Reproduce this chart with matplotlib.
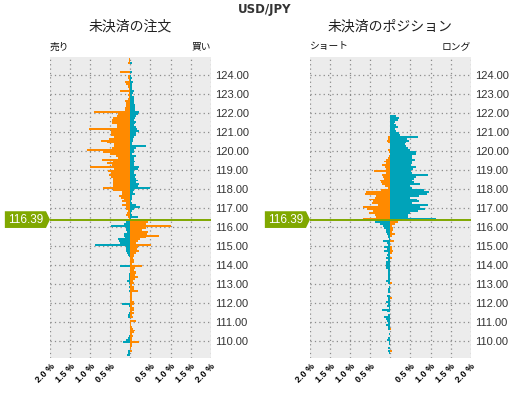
import matplotlib
matplotlib.use("Agg")
import matplotlib.pyplot as plt
import matplotlib.transforms as mtransforms
from matplotlib.patches import Polygon
import numpy as np

plt.rcParams['font.family'] = ['Noto Sans CJK JP', 'DejaVu Sans']

# price buckets (lower bound of each 0.10 bucket), top to bottom
price_levels = [
    124.8, 124.7, 124.6, 124.5, 124.4, 124.3, 124.2, 124.1, 124.0,
    123.9, 123.8, 123.7, 123.6, 123.5, 123.4, 123.3, 123.2, 123.1, 123.0,
    122.9, 122.8, 122.7, 122.6, 122.5, 122.4, 122.3, 122.2, 122.1, 122.0,
    121.9, 121.8, 121.7, 121.6, 121.5, 121.4, 121.3, 121.2, 121.1, 121.0,
    120.9, 120.8, 120.7, 120.6, 120.5, 120.4, 120.3, 120.2, 120.1, 120.0,
    119.9, 119.8, 119.7, 119.6, 119.5, 119.4, 119.3, 119.2, 119.1, 119.0,
    118.9, 118.8, 118.7, 118.6, 118.5, 118.4, 118.3, 118.2, 118.1, 118.0,
    117.9, 117.8, 117.7, 117.6, 117.5, 117.4, 117.3, 117.2, 117.1, 117.0,
    116.9, 116.8, 116.7, 116.6, 116.5, 116.4, 116.3, 116.2, 116.1, 116.0,
    115.9, 115.8, 115.7, 115.6, 115.5, 115.4, 115.3, 115.2, 115.1, 115.0,
    114.9, 114.8, 114.7, 114.6, 114.5, 114.4, 114.3, 114.2, 114.1, 114.0,
    113.9, 113.8, 113.7, 113.6, 113.5, 113.4, 113.3, 113.2, 113.1, 113.0,
    112.9, 112.8, 112.7, 112.6, 112.5, 112.4, 112.3, 112.2, 112.1, 112.0,
    111.9, 111.8, 111.7, 111.6, 111.5, 111.4, 111.3, 111.2, 111.1, 111.0,
    110.9, 110.8, 110.7, 110.6, 110.5, 110.4, 110.3, 110.2, 110.1, 110.0,
    109.9, 109.8, 109.7, 109.6, 109.5, 109.4, 109.3, 109.2,
]

# 未決済の注文 : sell side (left) and buy side (right), % of total
order_sell = [
    0.03, 0.03, 0.05, 0.02, 0.02, 0.02, 0.02, 0.25, 0.02,
    0.05, 0.05, 0.03, 0.13, 0.10, 0.07, 0.07, 0.03, 0.25, 0.03,
    0.05, 0.03, 0.05, 0.13, 0.10, 0.10, 0.10, 0.13, 0.13, 0.90,
    0.30, 0.33, 0.43, 0.45, 0.45, 0.45, 0.32, 0.33, 1.02, 0.48,
    0.48, 0.48, 0.40, 0.52, 0.72, 0.58, 0.40, 0.40, 0.45, 1.08,
    0.67, 0.50, 0.36, 0.30, 0.70, 0.42, 0.57, 0.45, 1.00, 0.40,
    0.55, 0.47, 0.53, 0.48, 0.42, 0.43, 0.42, 0.42, 0.42, 0.67,
    0.42, 0.20, 0.20, 0.28, 0.23, 0.17, 0.20, 0.12, 0.22, 0.12,
    0.12, 0.07, 0.08, 0.10, 0.05, 0.03, 0.17, 0.12, 0.15, 0.48,
    0.12, 0.10, 0.08, 0.15, 0.15, 0.13, 0.30, 0.28, 0.25, 0.87,
    0.12, 0.12, 0.12, 0.08, 0.05, 0.03, 0.02, 0.02, 0.02, 0.02,
    0.25, 0.02, 0.00, 0.00, 0.03, 0.03, 0.03, 0.03, 0.08, 0.03,
    0.02, 0.03, 0.02, 0.03, 0.00, 0.00, 0.00, 0.00, 0.00, 0.02,
    0.20, 0.03, 0.00, 0.00, 0.00, 0.04, 0.05, 0.05, 0.02, 0.00,
    0.00, 0.00, 0.02, 0.02, 0.02, 0.00, 0.00, 0.03, 0.05, 0.10,
    0.18, 0.02, 0.00, 0.00, 0.00, 0.05, 0.07, 0.08,
]
order_buy = [
    0.00, 0.00, 0.04, 0.00, 0.00, 0.00, 0.00, 0.04, 0.00,
    0.02, 0.03, 0.02, 0.07, 0.03, 0.03, 0.03, 0.04, 0.09, 0.06,
    0.05, 0.08, 0.08, 0.10, 0.10, 0.12, 0.12, 0.12, 0.12, 0.21,
    0.19, 0.13, 0.12, 0.10, 0.13, 0.12, 0.10, 0.13, 0.17, 0.21,
    0.15, 0.15, 0.09, 0.07, 0.07, 0.03, 0.04, 0.40, 0.15, 0.10,
    0.10, 0.05, 0.15, 0.10, 0.10, 0.12, 0.10, 0.08, 0.22, 0.18,
    0.10, 0.08, 0.13, 0.12, 0.13, 0.18, 0.15, 0.22, 0.20, 0.50,
    0.10, 0.07, 0.12, 0.03, 0.03, 0.03, 0.02, 0.05, 0.15, 0.25,
    0.08, 0.03, 0.02, 0.05, 0.20, 0.02, 0.50, 0.43, 0.40, 1.00,
    0.40, 0.30, 0.43, 0.42, 0.72, 0.40, 0.25, 0.20, 0.15, 0.52,
    0.18, 0.17, 0.22, 0.13, 0.10, 0.08, 0.07, 0.10, 0.08, 0.05,
    0.30, 0.12, 0.10, 0.13, 0.13, 0.12, 0.18, 0.12, 0.07, 0.10,
    0.03, 0.08, 0.08, 0.20, 0.03, 0.05, 0.03, 0.05, 0.05, 0.10,
    0.10, 0.03, 0.10, 0.10, 0.03, 0.08, 0.03, 0.07, 0.00, 0.15,
    0.02, 0.01, 0.05, 0.07, 0.12, 0.08, 0.05, 0.07, 0.03, 0.05,
    0.22, 0.03, 0.03, 0.02, 0.00, 0.03, 0.00, 0.00,
]

# 未決済のポジション : short (left) and long (right), % of total
pos_short = [
    0, 0, 0, 0, 0, 0, 0, 0, 0,
    0, 0, 0, 0, 0, 0, 0, 0, 0, 0,
    0, 0, 0, 0, 0, 0, 0, 0, 0, 0,
    0, 0.00, 0.00, 0.00, 0.00, 0.00, 0.00, 0.00, 0.00, 0.00,
    0.00, 0.00, 0.05, 0.05, 0.08, 0.07, 0.00, 0.00, 0.00, 0.05,
    0.03, 0.00, 0.03, 0.07, 0.10, 0.15, 0.12, 0.20, 0.13, 0.12,
    0.40, 0.12, 0.22, 0.18, 0.17, 0.27, 0.23, 0.20, 0.13, 0.05,
    0.23, 0.60, 0.63, 0.35, 0.37, 0.53, 0.43, 0.45, 0.30, 0.68,
    0.57, 0.43, 0.52, 0.37, 0.35, 0.67, 0.90, 0.37, 0.27, 0.18,
    0.17, 0.12, 0.10, 0.08, 0.07, 0.05, 0.04, 0.18, 0.08, 0.05,
    0.17, 0.08, 0.17, 0.05, 0.08, 0.07, 0.10, 0.05, 0.12, 0.10,
    0.10, 0.10, 0.07, 0.05, 0.05, 0.05, 0.05, 0.05, 0.12, 0.07,
    0.00, 0.04, 0.05, 0.07, 0.07, 0.00, 0.08, 0.05, 0.07, 0.10,
    0.05, 0.08, 0.03, 0.20, 0.08, 0.02, 0.07, 0.17, 0.12, 0.08,
    0.07, 0.10, 0.07, 0.05, 0.02, 0.00, 0.03, 0.00, 0.07, 0.08,
    0.03, 0.03, 0.00, 0.05, 0.00, 0.05, 0.03, 0.00,
]
pos_long = [
    0, 0, 0, 0, 0, 0, 0, 0, 0,
    0, 0, 0, 0, 0, 0, 0, 0, 0, 0,
    0, 0, 0, 0, 0, 0, 0, 0, 0, 0,
    0, 0.15, 0.21, 0.18, 0.12, 0.08, 0.13, 0.18, 0.12, 0.15,
    0.22, 0.25, 0.70, 0.42, 0.47, 0.38, 0.37, 0.40, 0.45, 0.48,
    0.63, 0.63, 0.55, 0.53, 0.62, 0.53, 0.53, 0.52, 0.65, 0.57,
    0.52, 0.53, 0.93, 0.63, 0.60, 0.53, 0.60, 0.75, 0.50, 0.53,
    0.83, 0.97, 0.90, 0.72, 0.50, 0.67, 0.72, 0.55, 0.93, 0.75,
    0.87, 0.70, 0.50, 0.45, 0.45, 1.13, 0.28, 0.19, 0.12, 0.03,
    0.07, 0.07, 0.03, 0.11, 0.05, 0.00, 0.00, 0.08, 0.00, 0.00,
    0.03, 0.05, 0.07, 0.03, 0.00, 0.00, 0.03, 0.00, 0.00, 0.00,
    0.00, 0.00, 0.00, 0.00, 0.00, 0.00, 0.00, 0.00, 0.00, 0.03,
    0.00, 0.00, 0.00, 0.00, 0.00, 0.00, 0.00, 0.03, 0.00, 0.00,
    0.00, 0.00, 0.00, 0.00, 0.00, 0.00, 0.00, 0.00, 0.00, 0.00,
    0.00, 0.00, 0.00, 0.02, 0.00, 0.00, 0.00, 0.00, 0.00, 0.00,
    0.00, 0.00, 0.00, 0.00, 0.00, 0.03, 0.00, 0.00,
]

current_price = 116.39
y_ticks = [110, 111, 112, 113, 114, 115, 116, 117, 118, 119, 120, 121, 122, 123, 124]
x_ticks = [-2.0, -1.5, -1.0, -0.5, 0.0, 0.5, 1.0, 1.5, 2.0]
x_ticklabels = ["2.0 %", "1.5 %", "1.0 %", "0.5 %", "", "0.5 %", "1.0 %", "1.5 %", "2.0 %"]

ORANGE = "#ff8a00"
TEAL = "#00a3b9"
GREEN = "#80a800"
BG = "#ececec"
NUMFONT = ['Liberation Sans', 'DejaVu Sans']

fig = plt.figure(figsize=(5.29, 3.93), dpi=100)
W, H = 529.0, 393.0

def make_axes(x0_px):
    return fig.add_axes([x0_px / W, 1 - 357.7 / H, 160.7 / W, 300.7 / H])

ax_l = make_axes(50)
ax_r = make_axes(310)

def draw_panel(ax, left_vals, right_vals, title, left_lbl, right_lbl):
    p = np.array(price_levels)
    lv = np.array(left_vals, dtype=float)
    rv = np.array(right_vals, dtype=float)
    above = p >= 116.4
    left_colors = [ORANGE if a else TEAL for a in above]
    right_colors = [TEAL if a else ORANGE for a in above]
    ax.set_facecolor(BG)
    ax.barh(p, -lv, height=0.1, align='edge', color=left_colors, linewidth=0,
            antialiased=False, zorder=3)
    ax.barh(p, rv, height=0.1, align='edge', color=right_colors, linewidth=0,
            antialiased=False, zorder=3)
    ax.set_xlim(-2, 2)
    ax.set_ylim(109.12, 124.95)
    ax.set_xticks(x_ticks)
    ax.set_xticklabels(x_ticklabels, rotation=45, ha='right', rotation_mode='anchor',
                       fontsize=6.5, fontweight='bold', family=NUMFONT)
    ax.set_yticks(y_ticks)
    ax.set_yticklabels([f"{v:.2f}" for v in y_ticks], fontsize=8, color='#333333',
                       family=NUMFONT)
    ax.yaxis.tick_right()
    ax.tick_params(axis='both', length=0)
    ax.tick_params(axis='y', pad=3)
    ax.tick_params(axis='x', pad=3)
    for s in ax.spines.values():
        s.set_visible(False)
    ax.grid(True, color='#8c8c8c', linestyle=(0, (1, 2.5)), linewidth=0.9, zorder=1)
    ax.set_axisbelow(True)
    ax.axhline(current_price, color=GREEN, linewidth=1.4, zorder=4)
    ax.text(0.5, 1.1, title, transform=ax.transAxes, ha='center', va='center',
            fontsize=10, color='#222222')
    ax.text(0.0, 1.035, left_lbl, transform=ax.transAxes, ha='left', va='center',
            fontsize=7, color='#111111')
    ax.text(1.0, 1.035, right_lbl, transform=ax.transAxes, ha='right', va='center',
            fontsize=7, color='#111111')
    # price tag
    trans = mtransforms.blended_transform_factory(ax.transAxes, ax.transData)
    h = 0.44
    x0, x1, xt = -0.281, -0.025, 0.0
    poly = Polygon([(x0, current_price + h), (x1, current_price + h), (xt, current_price),
                    (x1, current_price - h), (x0, current_price - h)],
                   closed=True, transform=trans, facecolor=GREEN, edgecolor='none',
                   clip_on=False, zorder=5)
    ax.add_patch(poly)
    ax.text((x0 + x1) / 2, current_price, f"{current_price:.2f}", transform=trans,
            ha='center', va='center', color='white', fontsize=8.5, family=NUMFONT,
            zorder=6, clip_on=False)

draw_panel(ax_l, order_sell, order_buy, "未決済の注文", "売り", "買い")
draw_panel(ax_r, pos_short, pos_long, "未決済のポジション", "ショート", "ロング")

fig.text(0.5, 1 - 10 / H, "USD/JPY", ha='center', va='center', fontsize=8.5,
         fontweight='bold', color='#333333', family=['DejaVu Sans'])

fig.savefig("out.png", dpi=100, facecolor='white')
